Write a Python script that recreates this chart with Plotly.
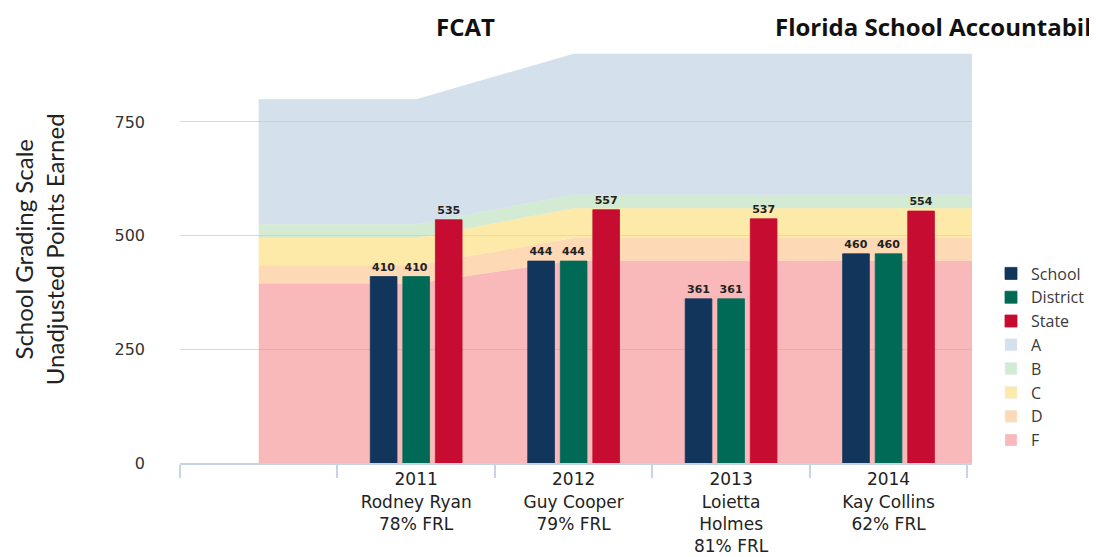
import plotly.graph_objects as go

# x categories: blank lead-in slot, four school years, blank tail slot for the grade bands
categories = [
    " ",
    "2011<br>Rodney Ryan<br>78% FRL",
    "2012<br>Guy Cooper<br>79% FRL",
    "2013<br>Loietta<br>Holmes<br>81% FRL",
    "2014<br>Kay Collins<br>62% FRL",
    "  ",
]
bar_categories = categories[1:5]

school = [410, 444, 361, 460]
district = [410, 444, 361, 460]
state = [535, 557, 537, 554]

# upper bound of each grade band at every category
grade_f_top = [395, 395, 445, 445, 445, 445]
grade_d_top = [435, 435, 495, 495, 495, 495]
grade_c_top = [495, 495, 560, 560, 560, 560]
grade_b_top = [525, 525, 590, 590, 590, 590]
grade_a_top = [800, 800, 900, 900, 900, 900]

grade_names = ["F", "D", "C", "B", "A"]
grade_tops = [grade_f_top, grade_d_top, grade_c_top, grade_b_top, grade_a_top]
grade_fill = {
    "A": "rgba(183,203,222,0.6)",
    "B": "rgba(182,222,182,0.6)",
    "C": "rgba(252,220,110,0.6)",
    "D": "rgba(252,192,132,0.6)",
    "F": "rgba(245,138,140,0.6)",
}
grade_legend = {"A": "#d4e0eb", "B": "#d3ebd3", "C": "#fdeaa8", "D": "#fdd9b5", "F": "#f9b9ba"}
grade_rank = {"A": 4, "B": 5, "C": 6, "D": 7, "F": 8}

SCHOOL_COLOR = "#12355b"
DISTRICT_COLOR = "#006a57"
STATE_COLOR = "#c60c31"

X_RANGE = [-0.5, 4.53]
Y_RANGE = [0, 950]

fig = go.Figure()

# grade bands (main subplot, drawn underneath the bars)
for i, (name, tops) in enumerate(zip(grade_names, grade_tops)):
    fig.add_trace(
        go.Scatter(
            x=categories,
            y=tops,
            mode="lines",
            line=dict(width=0),
            fill="tozeroy" if i == 0 else "tonexty",
            fillcolor=grade_fill[name],
            name=name,
            showlegend=False,
            hoverinfo="skip",
        )
    )

# legend entries for the grade bands, drawn as squares like the bars
for name in ["A", "B", "C", "D", "F"]:
    fig.add_trace(
        go.Bar(
            x=[None],
            y=[None],
            name=name,
            marker_color=grade_legend[name],
            legendrank=grade_rank[name],
        )
    )

label_font = dict(family="DejaVu Sans", size=11, color="#222222", weight="bold")
for name, values, color, rank in [
    ("School", school, SCHOOL_COLOR, 1),
    ("District", district, DISTRICT_COLOR, 2),
    ("State", state, STATE_COLOR, 3),
]:
    fig.add_trace(
        go.Bar(
            x=bar_categories,
            y=values,
            name=name,
            marker=dict(color=color, line=dict(color=color, width=0.8)),
            text=values,
            textposition="outside",
            textfont=label_font,
            cliponaxis=False,
            legendrank=rank,
            xaxis="x2",
            yaxis="y2",
        )
    )

# the page body adds an 8px offset, so margins are trimmed on top/left to compensate
fig.update_layout(
    width=1097,
    height=557,
    margin=dict(l=172, r=133, t=23, b=102),
    paper_bgcolor="white",
    plot_bgcolor="white",
    barmode="group",
    bargap=0.38,
    bargroupgap=0.18,
    font=dict(family="DejaVu Sans", color="#222222"),
    xaxis=dict(
        type="category",
        categoryorder="array",
        categoryarray=categories,
        range=X_RANGE,
        automargin=False,
        tickson="boundaries",
        ticks="outside",
        ticklen=13,
        tickwidth=2,
        tickcolor="#c6d4e4",
        showline=True,
        linecolor="#c6d4e4",
        linewidth=2,
        showgrid=False,
        tickfont=dict(family="DejaVu Sans", size=17, color="#222222"),
    ),
    yaxis=dict(
        range=Y_RANGE,
        automargin=False,
        tickvals=[0, 250, 500, 750],
        showgrid=True,
        gridcolor="#d9d9d9",
        gridwidth=1,
        zeroline=False,
        showline=False,
        ticklabelstandoff=34,
        tickfont=dict(family="DejaVu Sans", size=16, color="#333333"),
    ),
    xaxis2=dict(
        type="category",
        categoryorder="array",
        categoryarray=categories,
        range=X_RANGE,
        overlaying="x",
        visible=False,
    ),
    yaxis2=dict(range=Y_RANGE, overlaying="y", visible=False),
    legend=dict(
        x=1.024,
        y=0.478,
        xanchor="left",
        yanchor="top",
        traceorder="normal",
        font=dict(family="Open Sans", size=16, color="#3a3a3a"),
        itemwidth=30,
        bgcolor="rgba(0,0,0,0)",
    ),
    showlegend=True,
)

fig.add_annotation(
    text="School Grading Scale<br>Unadjusted Points Earned",
    xref="paper",
    yref="paper",
    x=-0.178,
    y=0.495,
    xanchor="center",
    yanchor="middle",
    textangle=-90,
    showarrow=False,
    font=dict(family="Lato", size=24, color="#222222"),
)
title_font = dict(family="Open Sans", size=24, color="#111111")
fig.add_annotation(
    text="<b>FCAT</b>",
    xref="paper",
    yref="paper",
    x=0.361,
    y=1.0532,
    xanchor="center",
    yanchor="top",
    showarrow=False,
    font=title_font,
)
fig.add_annotation(
    text="<b>Florida School Accountability</b>",
    xref="paper",
    yref="paper",
    x=0.749,
    y=1.0532,
    xanchor="left",
    yanchor="top",
    showarrow=False,
    font=title_font,
)

fig.write_html("out.html")
